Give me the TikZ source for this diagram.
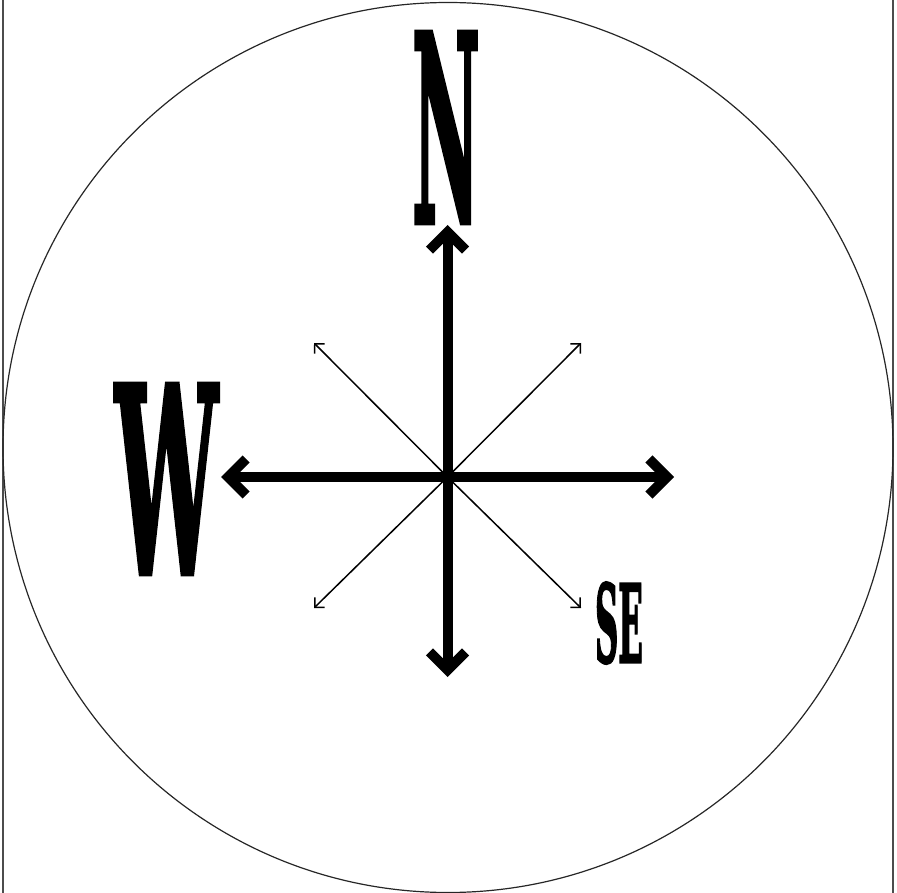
\documentclass[tikz,border=0pt]{standalone}
\usepackage{fontspec}
\setmainfont{DejaVu Serif}
\newfontface\westfont{DejaVu Serif Bold}[FakeBold=2.5]
\usepackage{graphicx}
\usetikzlibrary{arrows.meta}

\tikzset{
    bigarrow/.style={line width=10pt, -{Straight Barb[length=18pt, width=36pt]}},
    smallarrow/.style={line width=1.5pt, -{Straight Barb[length=7pt, width=14pt]}},
    letter/.style={inner sep=0pt, font=\westfont},
}

\begin{document}
\begin{tikzpicture}[x=1pt, y=-1pt]
    \useasboundingbox (0, 0) rectangle (897, 893);
    
    % 外框与圆
    \draw[line width=1.3pt, black!70] (3, 0) -- (3, 893);
    \draw[line width=1.3pt, black!70] (893, 0) -- (893, 893);
    \draw[line width=1.2pt, black!85] (448, 447.5) circle (445);
    
    % 方向点
    \coordinate (o) at (447.5, 477);
    \coordinate (n) at (447.5, 225);
    \coordinate (s) at (447.5, 677);
    \coordinate (w) at (221, 477);
    \coordinate (e) at (674, 477);
    \coordinate (nw) at (314, 343);
    \coordinate (ne) at (581, 343);
    \coordinate (sw) at (314, 608);
    \coordinate (se) at (581, 608);
    
    % 粗箭头
    \draw[bigarrow] (o) -- (n);
    \draw[bigarrow] (o) -- (s);
    \draw[bigarrow] (o) -- (w);
    \draw[bigarrow] (o) -- (e);
    
    % 细箭头
    \draw[smallarrow] (o) -- (nw);
    \draw[smallarrow] (o) -- (ne);
    \draw[smallarrow] (o) -- (sw);
    \draw[smallarrow] (o) -- (se);
    
    % 字母
    \node[letter] (nlabel) at (446, 127.5) {\resizebox{68pt}{189pt}{N}};
    \node[letter] (wlabel) at (166.5, 479) {\resizebox{103pt}{188pt}{W}};
    \node[letter] (selabel) at (619, 623) {\resizebox{48pt}{80pt}{SE}};
\end{tikzpicture}
\end{document}
